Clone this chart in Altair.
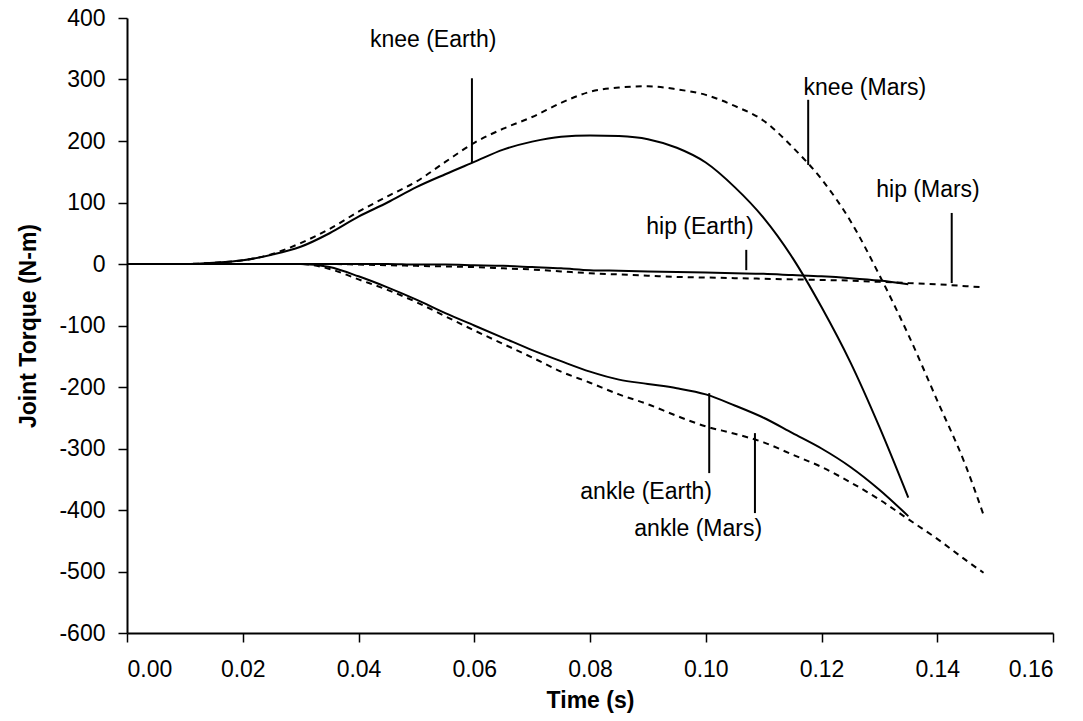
import altair as alt
import pandas as pd

# ---- data ----
t_earth = [0.000, 0.005, 0.010, 0.015, 0.020, 0.025, 0.030, 0.035, 0.040, 0.045, 0.050,
           0.055, 0.060, 0.065, 0.070, 0.075, 0.080, 0.085, 0.090, 0.095, 0.100,
           0.105, 0.110, 0.115, 0.120, 0.125, 0.130, 0.135]
knee_earth = [0, 0, 0, 2, 6, 15, 28, 50, 77, 100, 125,
              146, 166, 186, 199, 207, 209, 208, 203, 189, 165,
              125, 75, 10, -70, -160, -265, -380]
hip_earth = [0, 0, 0, 0, 0, 0, 0, 0, 0, 0, -1,
             -1, -2, -3, -5, -7, -10, -11, -12, -13, -14,
             -15, -16, -18, -20, -23, -27, -33]
ankle_earth = [0, 0, 0, 0, 0, 0, 0, -5, -20, -38, -58,
               -80, -100, -120, -140, -158, -175, -188, -195, -202, -212,
               -230, -250, -275, -300, -330, -367, -410]

t_mars = [0.000, 0.005, 0.010, 0.015, 0.020, 0.025, 0.030, 0.035, 0.040, 0.045, 0.050,
          0.055, 0.060, 0.065, 0.070, 0.075, 0.080, 0.085, 0.090, 0.095, 0.100,
          0.105, 0.110, 0.115, 0.120, 0.125, 0.130, 0.135, 0.140, 0.145, 0.148]
knee_mars = [0, 0, 0, 2, 6, 16, 34, 57, 85, 110, 134,
             166, 197, 220, 239, 262, 280, 287, 289, 284, 275,
             257, 233, 190, 138, 70, -18, -115, -222, -330, -408]
hip_mars = [0, 0, 0, 0, 0, 0, 0, 0, -1, -2, -3,
            -4, -5, -7, -9, -12, -15, -17, -19, -21, -22,
            -23, -24, -25, -26, -27, -29, -31, -33, -36, -38]
ankle_mars = [0, 0, 0, 0, 0, 0, 0, -8, -25, -42, -62,
              -85, -108, -130, -152, -175, -193, -212, -228, -247, -264,
              -276, -290, -310, -330, -355, -383, -415, -447, -482, -502]

# annotation labels and their pointer lines
label_text = ["knee (Earth)", "knee (Mars)", "hip (Mars)", "hip (Earth)", "ankle (Earth)", "ankle (Mars)"]
label_x = [0.0529, 0.1275, 0.1384, 0.0990, 0.0897, 0.0987]
label_y = [364, 286, 120, 60, -371, -431]
pointer_x = [0.0596, 0.1177, 0.1425, 0.1070, 0.1006, 0.1085]
pointer_y1 = [302, 267, 83, 23, -210, -275]
pointer_y2 = [164, 161, -31, -10, -340, -405]

x_ticks = [0.00, 0.02, 0.04, 0.06, 0.08, 0.10, 0.12, 0.14, 0.16]
y_ticks = [400, 300, 200, 100, 0, -100, -200, -300, -400, -500, -600]

rows = []
for name, vals in [("knee", knee_earth), ("hip", hip_earth), ("ankle", ankle_earth)]:
    for t, v in zip(t_earth, vals):
        rows.append({"t": t, "v": v, "series": name + " (Earth)"})
earth_df = pd.DataFrame(rows)
rows = []
for name, vals in [("knee", knee_mars), ("hip", hip_mars), ("ankle", ankle_mars)]:
    for t, v in zip(t_mars, vals):
        rows.append({"t": t, "v": v, "series": name + " (Mars)"})
mars_df = pd.DataFrame(rows)
lab_df = pd.DataFrame({"text": label_text, "x": label_x, "y": label_y})
ptr_df = pd.DataFrame({"x": pointer_x, "y1": pointer_y1, "y2": pointer_y2})

FONT = "Liberation Sans"
FS = 23

xs = alt.Scale(domain=[0, 0.16], nice=False, zero=False)
ys = alt.Scale(domain=[-600, 400], nice=False)

x_axis = alt.Axis(values=x_ticks, format=".2f", title="Time (s)", grid=False,
                  domainColor="black", domainWidth=2, tickColor="black", tickWidth=1.5, tickSize=9,
                  labelFont=FONT, labelFontSize=FS, labelColor="black", labelPadding=16,
                  titleFont=FONT, titleFontSize=FS, titleFontWeight="bold", titleColor="black",
                  titlePadding=8)
y_axis = alt.Axis(values=y_ticks, labelExpr="'' + datum.value", title="Joint Torque (N-m)", grid=False,
                  domainColor="black", domainWidth=2, tickColor="black", tickWidth=1.5, tickSize=9,
                  labelFont=FONT, labelFontSize=FS, labelColor="black", labelPadding=13,
                  titleFont=FONT, titleFontSize=FS, titleFontWeight="bold", titleColor="black",
                  titlePadding=18)

earth = alt.Chart(earth_df).mark_line(color="black", strokeWidth=2, interpolate="monotone").encode(
    x=alt.X("t:Q", scale=xs, axis=x_axis),
    y=alt.Y("v:Q", scale=ys, axis=y_axis),
    detail="series:N",
)
mars = alt.Chart(mars_df).mark_line(color="black", strokeWidth=2, strokeDash=[6, 5],
                                    interpolate="monotone").encode(
    x=alt.X("t:Q", scale=xs),
    y=alt.Y("v:Q", scale=ys),
    detail="series:N",
)
pointers = alt.Chart(ptr_df).mark_rule(color="black", strokeWidth=2).encode(
    x=alt.X("x:Q", scale=xs), y=alt.Y("y1:Q", scale=ys), y2="y2:Q"
)
labels = alt.Chart(lab_df).mark_text(font=FONT, fontSize=FS, color="black",
                                     align="center", baseline="middle").encode(
    x=alt.X("x:Q", scale=xs), y=alt.Y("y:Q", scale=ys), text="text:N"
)

chart = alt.layer(earth, mars, pointers, labels).properties(
    width=926, height=615,
    autosize=alt.AutoSizeParams(type="none"),
    padding={"left": 127, "top": 18, "right": 30, "bottom": 88},
    background="white",
).configure_view(stroke=None)

chart.save("out.html", embed_options={"renderer": "svg", "actions": False})
